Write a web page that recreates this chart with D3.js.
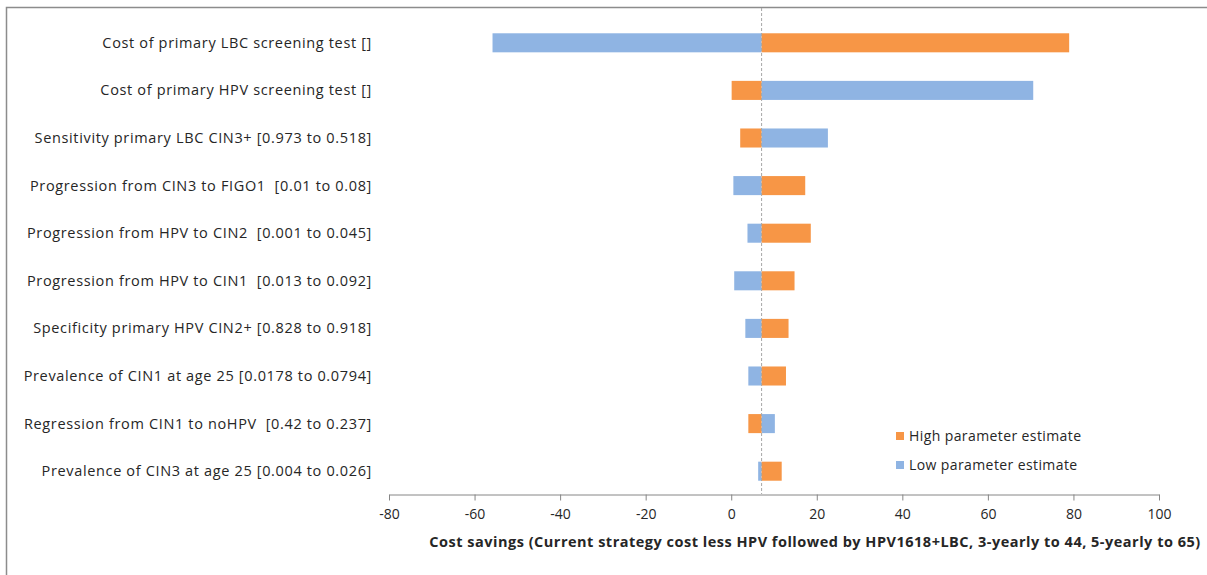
<!DOCTYPE html>
<html>
<head>
<meta charset="utf-8">
<script src="https://cdn.jsdelivr.net/npm/d3@7"></script>
<style>
  body { margin: 0; background: #fff; }
  svg text { font-family: "Open Sans", "Noto Sans", sans-serif; fill: #262626; white-space: pre; }
</style>
</head>
<body>
<div id="chart"></div>
<script>
// parameters, top to bottom
var params = [
  "Cost of primary LBC screening test []",
  "Cost of primary HPV screening test []",
  "Sensitivity primary LBC CIN3+ [0.973 to 0.518]",
  "Progression from CIN3 to FIGO1  [0.01 to 0.08]",
  "Progression from HPV to CIN2  [0.001 to 0.045]",
  "Progression from HPV to CIN1  [0.013 to 0.092]",
  "Specificity primary HPV CIN2+ [0.828 to 0.918]",
  "Prevalence of CIN1 at age 25 [0.0178 to 0.0794]",
  "Regression from CIN1 to noHPV  [0.42 to 0.237]",
  "Prevalence of CIN3 at age 25 [0.004 to 0.026]"
]
// cost savings at high / low parameter value
var highVals = [79.0, 0.1, 2.1, 17.3, 18.6, 14.8, 13.4, 12.8, 4.0, 11.8]
var lowVals = [-55.8, 70.6, 22.6, 0.5, 3.8, 0.7, 3.3, 4.0, 10.2, 6.3]
var baseValue = 7.1
var xTicks = [-80, -60, -40, -20, 0, 20, 40, 60, 80, 100]
var seriesNames = ["High parameter estimate", "Low parameter estimate"]
var axisTitle = "Cost savings (Current strategy cost less HPV followed by HPV1618+LBC, 3-yearly to 44, 5-yearly to 65)"

var W = 1207, H = 575
var orange = "#F79646", blue = "#8FB4E3"

var svg = d3.select("#chart").append("svg")
  .attr("width", W).attr("height", H)

// outer frame (only top and left visible)
svg.append("path")
  .attr("d", "M6.5," + H + " V7.5 H" + W)
  .attr("fill", "none").attr("stroke", "#8c8c8c").attr("stroke-width", 1.5)

var x = d3.scaleLinear().domain([-80, 100]).range([389, 1159])
var y = d3.scaleBand().domain(params).range([19, 495]).paddingInner(0.6).paddingOuter(0.3)

var rows = params.map(function (p, i) {
  return { name: p, high: highVals[i], low: lowVals[i] }
})

function bar(val, color) {
  svg.append("g").selectAll("rect")
    .data(rows)
    .enter()
    .append("rect")
      .attr("x", function (d) { return x(Math.min(val(d), baseValue)) })
      .attr("width", function (d) { return Math.abs(x(val(d)) - x(baseValue)) })
      .attr("y", function (d) { return y(d.name) })
      .attr("height", y.bandwidth())
      .attr("fill", color)
}
bar(function (d) { return d.low }, blue)
bar(function (d) { return d.high }, orange)

// base case dashed line
svg.append("line")
  .attr("x1", x(baseValue)).attr("x2", x(baseValue))
  .attr("y1", 8).attr("y2", 494)
  .attr("stroke", "#a6a6a6").attr("stroke-dasharray", "3,2")

// labels
svg.append("g").selectAll("text")
  .data(params)
  .enter()
  .append("text")
    .attr("x", 372)
    .attr("y", function (d) { return y(d) + y.bandwidth() / 2 })
    .attr("dy", "0.35em")
    .attr("text-anchor", "end")
    .style("font-size", "14.5px")
    .style("letter-spacing", "0.65px")
    .text(function (d) { return d })

// x axis
var ax = svg.append("g")
  .attr("transform", "translate(0,494.5)")
  .call(d3.axisBottom(x).tickValues(xTicks).tickFormat(function (d) { return String(d) })
    .tickSize(6).tickSizeOuter(0).tickPadding(9))
ax.select(".domain").attr("stroke", "#868686")
ax.selectAll(".tick line").attr("stroke", "#868686")
ax.selectAll(".tick text")
  .style("font-size", "14px")
  .style("font-family", "'Open Sans', sans-serif")
  .attr("fill", "#262626")

svg.append("text")
  .attr("x", 815).attr("y", 547)
  .attr("text-anchor", "middle")
  .style("font-size", "14.5px")
  .style("letter-spacing", "0.5px")
  .style("font-weight", "bold")
  .text(axisTitle)

// legend
var leg = svg.append("g").selectAll("g")
  .data(seriesNames)
  .enter()
  .append("g")
    .attr("transform", function (d, i) { return "translate(896," + (436 + i * 29) + ")" })
leg.append("rect")
  .attr("x", 0).attr("y", -4).attr("width", 8).attr("height", 8)
  .attr("fill", function (d, i) { return i == 0 ? orange : blue })
leg.append("text")
  .attr("x", 13).attr("dy", "0.35em")
  .style("font-size", "14px")
  .style("letter-spacing", "0.4px")
  .text(function (d) { return d })
</script>
</body>
</html>
